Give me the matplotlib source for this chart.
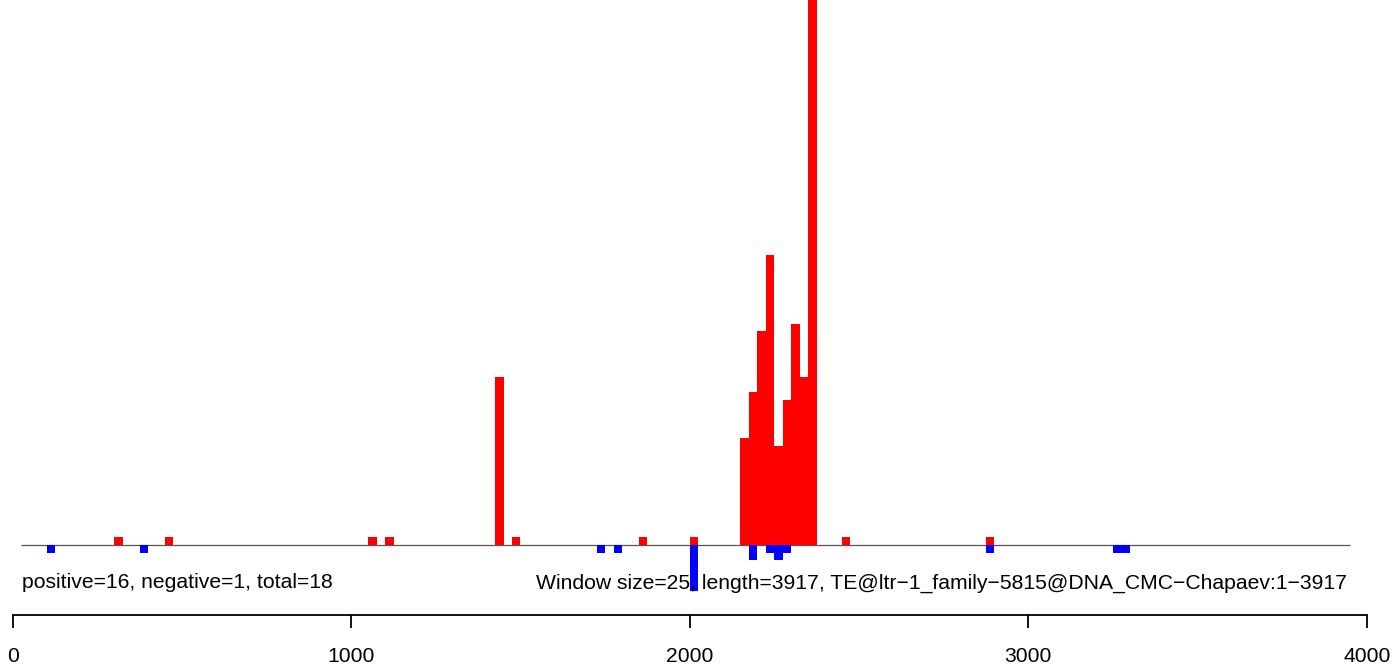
import numpy as np
import matplotlib
matplotlib.use("Agg")
import matplotlib.pyplot as plt

plt.rcParams['font.family'] = ['Liberation Sans', 'DejaVu Sans']

# window size 25, bins given by their start position
window = 25
pos_bins = [300, 450, 1050, 1100, 1425, 1475, 1850, 2000, 2150, 2175, 2200,
            2225, 2250, 2275, 2300, 2325, 2350, 2450, 2875]
pos_counts = [1, 1, 1, 1, 22, 1, 1, 1, 14, 20, 28, 38, 13, 19, 29, 22, 90, 1, 1]
neg_bins = [100, 375, 1725, 1775, 2000, 2175, 2225, 2250, 2275, 2875, 3250, 3275]
neg_counts = [1, 1, 1, 1, 6, 2, 1, 2, 1, 1, 1, 1]

seq_len = 3917
te_name = "TE@ltr\u22121_family\u22125815@DNA_CMC\u2212Chapaev:1\u22123917"
left_txt = "positive=16, negative=1, total=18"
right_txt = "Window size=25, length=3917, " + te_name

W, H = 1393, 666
fig = plt.figure(figsize=(W / 100, H / 100), dpi=100)

x0 = 12.7 / W
xw = 1354 / W
unit = 7.63  # px per count
ax = fig.add_axes([x0, (H - 600) / H, xw, 600 / H])
ax.set_xlim(0, 4000)
ax.set_ylim(-(600 - 545) / unit, 545 / unit)
ax.axis('off')

ax.hlines(0, window, 3950, color='#555555', lw=0.9, zorder=1)
ax.bar(pos_bins, pos_counts, width=window, align='edge', color='#FF0000', lw=0, zorder=2)
ax.bar(neg_bins, [-c for c in neg_counts], width=window, align='edge', color='#0000FF', lw=0, zorder=2)

fig.text(21.7 / W, 1 - 583 / H, left_txt, fontsize=15.2, ha='left', va='center', zorder=5)
fig.text(1347 / W, 1 - 583 / H, right_txt, fontsize=15.2, ha='right', va='center', zorder=5)

# bottom axis
ax2 = fig.add_axes([x0, 1 - 615 / H, xw, 0.0001])
ax2.set_xlim(0, 4000)
ax2.set_yticks([])
for s in ['top', 'left', 'right']:
    ax2.spines[s].set_visible(False)
ax2.spines['bottom'].set_linewidth(1.3)
ax2.patch.set_alpha(0)
ax2.set_xticks(np.arange(0, 4001, 1000))
ax2.tick_params(axis='x', length=9, width=1.3, pad=14, labelsize=15.2)

fig.savefig('out.png', dpi=100)
